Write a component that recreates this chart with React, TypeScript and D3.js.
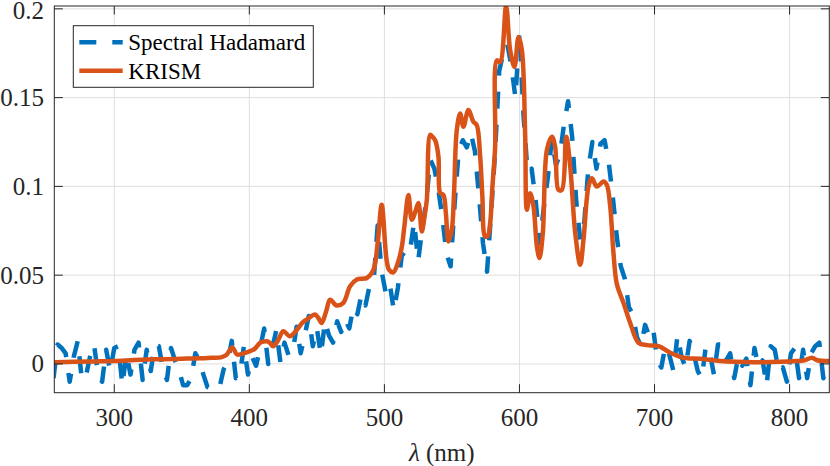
import React from "react";
import * as d3 from "d3";

// ---- data ----
const hadamardWavelengths = [
  255,258,261,264,267,270,273,276,279,282,285,288,291,294,297,300,303,306,309,312,
  315,318,321,324,327,330,333,336,339,342,345,348,351,354,357,360,363,366,369,372,
  375,378,381,384,387,390,393,396,399,402,405,408,411,414,417,420,423,426,429,432,
  435,438,441,444,447,450,453,456,459,462,465,468,471,474,477,480,483,486,489,492,
  495,498,501,504,507,510,513,516,519,522,525,528,531,534,537,540,543,546,549,552,
  555,558,561,564,567,570,573,576,579,582,585,588,591,594,597,600,603,606,609,612,
  615,618,621,624,627,630,633,636,639,642,645,648,651,654,657,660,663,666,669,672,
  675,678,681,684,687,690,693,696,699,702,705,708,711,714,717,720,723,726,729,732,
  735,738,741,744,747,750,753,756,759,762,765,768,771,774,777,780,783,786,789,792,
  795,798,801,804,807,810,813,816,819,822,825,828,
];
const hadamardValues = [
  -0.008,0.011,0.009,0.006,-0.010,0.004,0.013,-0.009,-0.007,0.004,0.011,-0.006,-0.010,0.008,-0.004,0.009,0.010,-0.012,0.006,-0.006,
  0.008,0.012,-0.009,0.008,-0.004,0.011,0.010,-0.003,-0.009,0.009,0.002,-0.004,-0.012,-0.012,-0.008,0.006,0.002,-0.006,-0.013,-0.014,
  -0.012,-0.013,-0.003,0.001,0.013,-0.008,-0.006,0.010,-0.006,0.004,-0.001,0.009,0.020,0.000,0.009,0.019,0.001,0.012,0.005,0.006,
  0.021,0.006,0.016,0.027,0.010,0.020,0.005,0.024,0.016,0.012,0.024,0.018,0.025,0.020,0.032,0.028,0.039,0.033,0.044,0.046,
  0.078,0.052,0.040,0.045,0.030,0.043,0.062,0.060,0.064,0.080,0.058,0.076,0.092,0.115,0.110,0.098,0.082,0.062,0.055,0.090,
  0.120,0.126,0.122,0.130,0.120,0.095,0.068,0.052,0.085,0.120,0.165,0.175,0.180,0.168,0.150,0.187,0.140,0.108,0.110,0.092,
  0.068,0.088,0.105,0.127,0.112,0.118,0.135,0.148,0.128,0.092,0.070,0.080,0.110,0.125,0.110,0.124,0.126,0.114,0.095,0.072,
  0.055,0.048,0.032,0.028,0.015,0.010,0.022,0.016,0.020,0.002,-0.002,0.010,0.005,-0.004,0.016,0.004,-0.002,0.013,0.006,-0.004,
  -0.008,0.010,0.006,-0.006,0.011,0.011,0.002,0.006,-0.008,0.004,-0.001,0.003,-0.012,0.009,-0.002,0.002,-0.012,0.010,0.008,-0.004,
  -0.002,-0.010,0.006,0.009,-0.008,0.008,-0.008,0.006,0.010,0.012,-0.008,0.001,
];

const krismWavelengths = [
  255,270,285,300,315,330,345,354,365,372,379,383,387.4,390.9,395,400.5,404,407.9,410,412.9,
  415,417.8,421,425.2,430.1,436.3,439,442.5,448.7,451,453.6,457,459.8,464.7,469.6,474.6,479.6,484,487,491.9,
  495,498,501.6,503.5,506.5,510,512.9,515,517.8,520.3,523,525.2,527.7,529.5,531.4,533.9,535.5,537.6,540,541.3,
  543.7,545.5,547.4,549.9,551.5,553.6,556.1,558.5,562.2,565.9,568.4,570.9,572.5,574.6,576.5,578.3,580,582,583.3,585.7,
  590.1,593.1,596.3,599.3,601.8,604.2,605.5,607.9,610.4,612.9,614.8,617.3,620.3,624,626.4,628.9,631.4,634.6,637.6,641.3,
  645,647.4,651.1,653.6,657.3,662.2,664.7,667.2,669.6,672.1,677,682,688.1,694.4,703,711.6,721.5,733.9,748.7,773.3,
  805.5,811,816.6,820.3,829,
];
const krismValues = [
  0.001,0.0012,0.0014,0.0016,0.0022,0.0026,0.0028,0.003,0.0032,0.0035,0.0037,0.005,0.0093,0.0053,0.0058,0.0072,0.0085,0.0119,0.0125,0.0128,
  0.012,0.010,0.013,0.0184,0.0156,0.0203,0.023,0.025,0.0278,0.026,0.0231,0.030,0.0362,0.0329,0.0344,0.0437,0.0475,0.048,0.0484,0.0531,
  0.068,0.0896,0.0587,0.053,0.0516,0.057,0.066,0.079,0.0952,0.0812,0.086,0.0906,0.0746,0.082,0.0924,0.129,0.128,0.126,0.117,0.0962,
  0.0952,0.085,0.069,0.0756,0.095,0.1317,0.1411,0.1336,0.143,0.1364,0.1345,0.117,0.095,0.0718,0.072,0.0793,0.100,0.1224,0.171,0.170,
  0.2015,0.1767,0.1673,0.1842,0.1767,0.1299,0.0868,0.0962,0.0887,0.0662,0.0597,0.0737,0.1205,0.128,0.1224,0.098,0.098,0.128,0.1111,0.0737,
  0.0559,0.0699,0.0999,0.1046,0.0999,0.1027,0.1008,0.0887,0.0625,0.045,0.0344,0.0231,0.0119,0.0106,0.010,0.0063,0.0035,0.0029,0.0016,0.001,
  0.0016,0.002,0.0035,0.0021,0.0016,
];

const xTicks = [300, 400, 500, 600, 700, 800];
const yTicks = [0, 0.05, 0.1, 0.15, 0.2];
const yTickLabels = ["0", "0.05", "0.1", "0.15", "0.2"];
const seriesNames = ["Spectral Hadamard", "KRISM"];

// ---- layout ----
const W = 830, H = 466;
const L = 54.3, R = 829.3, T = 6, B = 392.7;
const BLUE = "#0072BD", ORANGE = "#D95319";
const FONT = "'Liberation Serif', 'Times New Roman', serif";

export default function App() {
  const x = d3.scaleLinear().domain([255.6, 829.4]).range([L, R]);
  const y = d3.scaleLinear().domain([-0.0162, 0.2016]).range([B, T]);

  const blue = hadamardWavelengths.map((w, i) => [w, hadamardValues[i]] as [number, number])
    .filter((d) => d[1] !== undefined);
  const orange = krismWavelengths.map((w, i) => [w, krismValues[i]] as [number, number]);

  const lineBlue = d3.line<[number, number]>().x((d) => x(d[0])).y((d) => y(d[1]));
  const lineOrange = d3.line<[number, number]>().x((d) => x(d[0])).y((d) => y(d[1]))
    .curve(d3.curveCatmullRom.alpha(0.5));

  const tickLen = 8.5;
  const axisColor = "#262626";

  return (
    <svg width={W} height={H} style={{ position: "absolute", left: 0, top: 0, background: "#fff" }}>
      <defs>
        <clipPath id="plotclip">
          <rect x={L} y={T} width={R - L} height={B - T} />
        </clipPath>
      </defs>
      <rect x={0} y={0} width={W} height={H} fill="#fff" />
      {/* grid */}
      {xTicks.map((t) => (
        <line key={"gx" + t} x1={x(t)} x2={x(t)} y1={T} y2={B} stroke="#dfdfdf" strokeWidth={1} />
      ))}
      {yTicks.map((t) => (
        <line key={"gy" + t} x1={L} x2={R} y1={y(t)} y2={y(t)} stroke="#dfdfdf" strokeWidth={1} />
      ))}
      {/* data */}
      <g clipPath="url(#plotclip)">
        <path d={lineBlue(blue) || ""} fill="none" stroke={BLUE} strokeWidth={4.5}
          strokeDasharray="17,16" strokeLinejoin="round" />
        <path d={lineOrange(orange) || ""} fill="none" stroke={ORANGE} strokeWidth={4.5}
          strokeLinejoin="round" strokeLinecap="round" />
      </g>
      {/* axes box */}
      <rect x={L} y={T} width={R - L} height={B - T} fill="none" stroke={axisColor} strokeWidth={1} />
      {xTicks.map((t) => (
        <g key={"tx" + t}>
          <line x1={x(t)} x2={x(t)} y1={B} y2={B - tickLen} stroke={axisColor} strokeWidth={1} />
          <line x1={x(t)} x2={x(t)} y1={T} y2={T + tickLen} stroke={axisColor} strokeWidth={1} />
          <text x={x(t)} y={426} textAnchor="middle" fontFamily={FONT} fontSize={25} fill={axisColor}>
            {t}
          </text>
        </g>
      ))}
      {yTicks.map((t, i) => (
        <g key={"ty" + t}>
          <line x1={L} x2={L + tickLen} y1={y(t)} y2={y(t)} stroke={axisColor} strokeWidth={1} />
          <line x1={R} x2={R - tickLen} y1={y(t)} y2={y(t)} stroke={axisColor} strokeWidth={1} />
          <text x={44} y={Math.max(y(t), 10.5)} dy="0.34em" textAnchor="end" fontFamily={FONT} fontSize={25} fill={axisColor}>
            {yTickLabels[i]}
          </text>
        </g>
      ))}
      {/* x label */}
      <text x={(L + R) / 2} y={461} textAnchor="middle" fontFamily={FONT} fontSize={25} fill={axisColor}>
        <tspan fontStyle="italic">λ</tspan> (nm)
      </text>
      {/* legend */}
      <g>
        <rect x={73.3} y={25.7} width={240} height={61.6} fill="#fff" stroke={axisColor} strokeWidth={1} />
        <line x1={79.3} x2={122.7} y1={42.3} y2={42.3} stroke={BLUE} strokeWidth={4.5} strokeDasharray="17,16" />
        <line x1={79.3} x2={122.7} y1={70.7} y2={70.7} stroke={ORANGE} strokeWidth={4.5} />
        <text x={128.3} y={50.3} fontFamily={FONT} fontSize={23} fill="#000">{seriesNames[0]}</text>
        <text x={128.3} y={78.6} fontFamily={FONT} fontSize={23} fill="#000">{seriesNames[1]}</text>
      </g>
    </svg>
  );
}
